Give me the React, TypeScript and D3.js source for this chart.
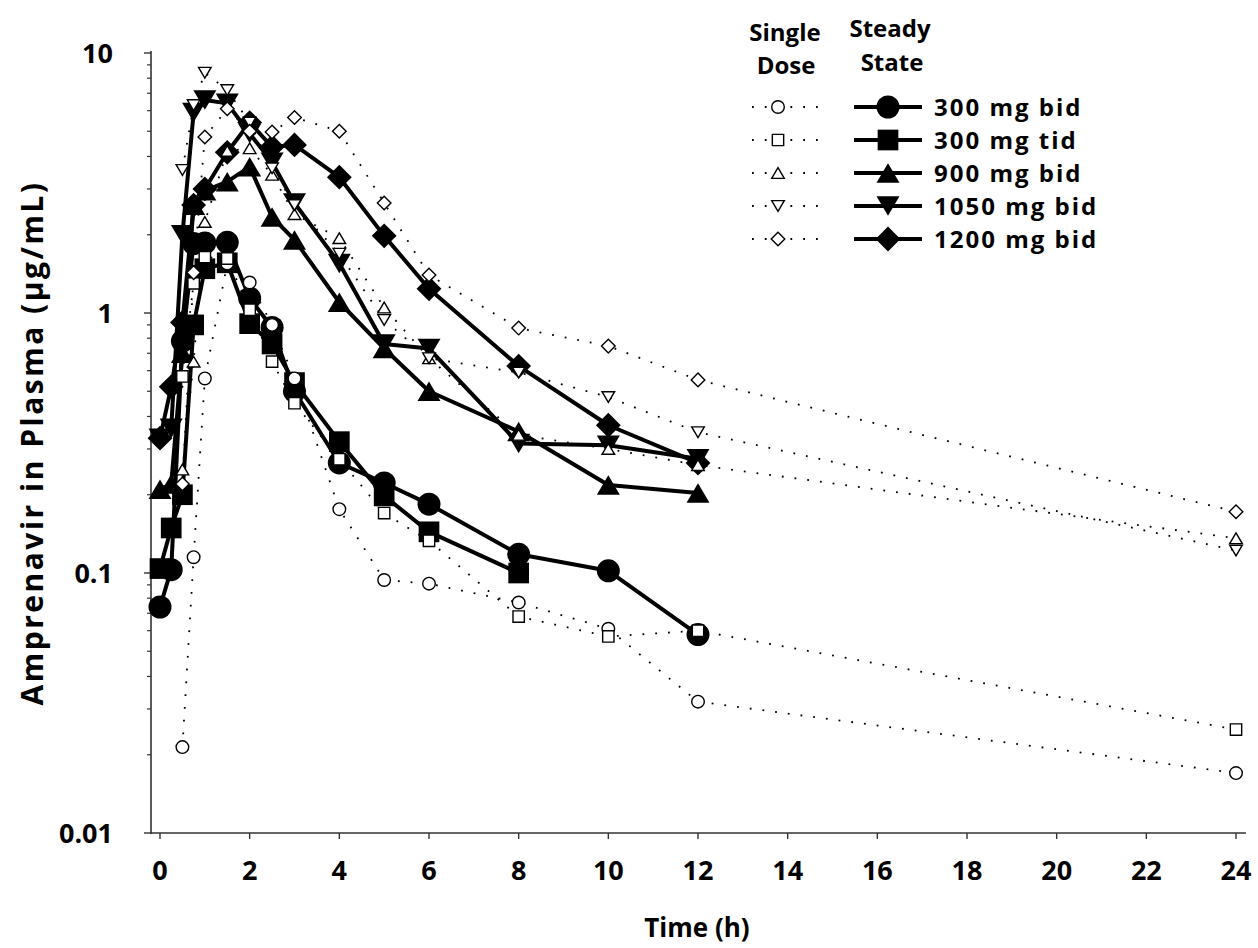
import React, { useRef, useEffect } from 'react';
import * as d3 from 'd3';

// sampling times (h)
const ssTimes = [0, 0.25, 0.5, 0.75, 1, 1.5, 2, 2.5, 3, 4, 5, 6, 8, 10, 12];
const sdTimes = [0.5, 0.75, 1, 1.5, 2, 2.5, 3, 4, 5, 6, 8, 10, 12, 24];

// steady state (filled markers, solid lines)
const ss300bid = [0.074, 0.103, 0.78, 1.85, 1.86, 1.87, 1.14, 0.88, 0.5, 0.265, 0.222, 0.184, 0.118, 0.102, 0.058];
const ss300tid = [0.104, 0.149, 0.2, 0.9, 1.48, 1.56, 0.91, 0.76, 0.54, 0.32, 0.198, 0.144, 0.1];
const ss900bid = [0.21, 0.22, 0.7, 2.6, 2.95, 3.2, 3.65, 2.34, 1.91, 1.1, 0.73, 0.5, 0.35, 0.218, 0.203];
const ss1050bid = [0.33, 0.36, 2.0, 5.9, 6.6, 6.4, 4.9, 3.8, 2.65, 1.55, 0.76, 0.73, 0.315, 0.31, 0.275];
const ss1200bid = [0.33, 0.52, 0.92, 2.6, 3.0, 4.15, 5.4, 4.35, 4.43, 3.33, 1.98, 1.24, 0.625, 0.37, 0.265];

// single dose (open markers, dotted lines)
const sd300bid = [0.0214, 0.115, 0.56, 1.55, 1.31, 0.9, 0.56, 0.176, 0.094, 0.091, 0.077, 0.061, 0.032, 0.017];
const sd300tid = [0.57, 1.3, 1.64, 1.62, 1.03, 0.65, 0.45, 0.274, 0.17, 0.133, 0.068, 0.057, 0.06, 0.025];
const sd900bid = [0.25, 0.65, 2.24, 4.2, 4.3, 3.4, 2.4, 1.94, 1.05, 0.67, 0.34, 0.3, 0.26, 0.136];
const sd1050bid = [3.55, 6.3, 8.4, 7.2, 5.4, 3.6, 2.6, 1.69, 0.94, 0.67, 0.59, 0.475, 0.348, 0.122];
const sd1200bid = [0.22, 1.43, 4.75, 6.1, 5.0, 4.97, 5.65, 5.0, 2.65, 1.4, 0.875, 0.746, 0.553, 0.172];

const labels = ['300 mg bid', '300 mg tid', '900 mg bid', '1050 mg bid', '1200 mg bid'];
const shapes = ['circle', 'square', 'up', 'down', 'diamond'];
const ssValues = [ss300bid, ss300tid, ss900bid, ss1050bid, ss1200bid];
const sdValues = [sd300bid, sd300tid, sd900bid, sd1050bid, sd1200bid];

const xTicks = d3.range(0, 25, 2);
const yMajor = [0.01, 0.1, 1, 10];
const yLabels = ['0.01', '0.1', '1', '10'];

const FONT = "'Open Sans', 'DejaVu Sans', sans-serif";

// marker outline around (0,0), s = half width
function markerPath(shape, s) {
  if (shape === 'circle') {
    return `M${-s},0A${s},${s} 0 1,0 ${s},0A${s},${s} 0 1,0 ${-s},0Z`;
  }
  if (shape === 'square') {
    const h = s * 0.9;
    return `M${-h},${-h}H${h}V${h}H${-h}Z`;
  }
  const th = s * 0.85;
  if (shape === 'up') return `M0,${-th}L${s},${th}L${-s},${th}Z`;
  if (shape === 'down') return `M0,${th}L${s},${-th}L${-s},${-th}Z`;
  const d = s * 1.08;
  return `M0,${-d}L${d},0L0,${d}L${-d},0Z`;
}

const App = () => {
  const svgRef = useRef();

  useEffect(() => {
    const width = 1258;
    const height = 948;
    const svg = d3.select(svgRef.current)
      .attr('width', width)
      .attr('height', height)
      .style('background', 'white');

    svg.selectAll('*').remove();

    const x = d3.scaleLinear().domain([0, 24]).range([160, 1236]);
    const y = d3.scaleLog().domain([0.01, 10]).range([833, 53]);

    // axes
    const axisLeft = 151;
    svg.append('line')
      .attr('x1', axisLeft).attr('x2', axisLeft)
      .attr('y1', 51).attr('y2', 834)
      .attr('stroke', '#333').attr('stroke-width', 1.6);
    svg.append('line')
      .attr('x1', axisLeft - 1).attr('x2', 1246)
      .attr('y1', 833).attr('y2', 833)
      .attr('stroke', '#333').attr('stroke-width', 1.6);

    const minor = [];
    for (let e = -2; e < 1; e++) {
      for (let m = 2; m <= 9; m++) minor.push(m * Math.pow(10, e));
    }
    svg.selectAll('.ymin').data(minor).enter().append('line')
      .attr('x1', axisLeft - 4).attr('x2', axisLeft)
      .attr('y1', d => y(d)).attr('y2', d => y(d))
      .attr('stroke', '#333').attr('stroke-width', 1.2);
    svg.selectAll('.ymaj').data(yMajor).enter().append('line')
      .attr('x1', axisLeft - 7).attr('x2', axisLeft)
      .attr('y1', d => y(d)).attr('y2', d => y(d))
      .attr('stroke', '#333').attr('stroke-width', 1.4);
    svg.selectAll('.ylab').data(yMajor).enter().append('text')
      .attr('x', 113).attr('y', d => y(d))
      .attr('dy', '0.36em')
      .attr('text-anchor', 'end')
      .attr('font-family', FONT).attr('font-weight', 700).attr('font-size', 27)
      .text((d, i) => yLabels[i]);

    svg.selectAll('.xt').data(xTicks).enter().append('line')
      .attr('x1', d => x(d)).attr('x2', d => x(d))
      .attr('y1', 833).attr('y2', 839)
      .attr('stroke', '#333').attr('stroke-width', 1.4);
    svg.selectAll('.xlab').data(xTicks).enter().append('text')
      .attr('x', d => x(d)).attr('y', 880)
      .attr('text-anchor', 'middle')
      .attr('font-family', FONT).attr('font-weight', 700).attr('font-size', 27)
      .text(d => d);

    svg.append('text')
      .attr('x', 697).attr('y', 937)
      .attr('text-anchor', 'middle')
      .attr('font-family', FONT).attr('font-weight', 700).attr('font-size', 26)
      .text('Time (h)');

    svg.append('text')
      .attr('transform', 'translate(43, 443) rotate(-90)')
      .attr('text-anchor', 'middle')
      .attr('font-family', FONT).attr('font-weight', 700).attr('font-size', 30)
      .attr('letter-spacing', 2.5)
      .text('Amprenavir in Plasma (\u00b5g/mL)');

    const line = d3.line().x(d => x(d[0])).y(d => y(d[1]));

    // steady state: solid lines + filled markers
    ssValues.forEach((vals) => {
      const pts = vals.map((v, j) => [ssTimes[j], v]);
      svg.append('path')
        .attr('d', line(pts))
        .attr('fill', 'none').attr('stroke', '#000')
        .attr('stroke-width', 4).attr('stroke-linejoin', 'round');
    });
    ssValues.forEach((vals, i) => {
      const pts = vals.map((v, j) => [ssTimes[j], v]);
      svg.selectAll(null).data(pts).enter().append('path')
        .attr('transform', d => `translate(${x(d[0])},${y(d[1])})`)
        .attr('d', markerPath(shapes[i], 11.5))
        .attr('fill', '#000');
    });

    // single dose: dotted lines + open markers
    sdValues.forEach((vals) => {
      const pts = vals.map((v, j) => [sdTimes[j], v]);
      svg.append('path')
        .attr('d', line(pts))
        .attr('fill', 'none').attr('stroke', '#000')
        .attr('stroke-width', 1.8).attr('stroke-dasharray', '1.8 11');
    });
    sdValues.forEach((vals, i) => {
      const pts = vals.map((v, j) => [sdTimes[j], v]);
      svg.selectAll(null).data(pts).enter().append('path')
        .attr('transform', d => `translate(${x(d[0])},${y(d[1])})`)
        .attr('d', markerPath(shapes[i], 6.3))
        .attr('fill', '#fff').attr('stroke', '#000').attr('stroke-width', 1.4);
    });

    // legend
    const lg = svg.append('g');
    const head = [['Single', 785, 41], ['Dose', 786, 74], ['Steady', 890, 37], ['State', 892, 71]];
    head.forEach(h => {
      lg.append('text')
        .attr('x', h[1]).attr('y', h[2])
        .attr('text-anchor', 'middle')
        .attr('font-family', FONT).attr('font-weight', 700).attr('font-size', 24)
        .text(h[0]);
    });
    labels.forEach((lab, i) => {
      const ly = 107 + i * 33;
      lg.append('line')
        .attr('x1', 752).attr('x2', 828).attr('y1', ly).attr('y2', ly)
        .attr('stroke', '#000').attr('stroke-width', 1.8).attr('stroke-dasharray', '1.8 11');
      lg.append('path')
        .attr('transform', `translate(778,${ly})`)
        .attr('d', markerPath(shapes[i], 6.3))
        .attr('fill', '#fff').attr('stroke', '#000').attr('stroke-width', 1.4);
      lg.append('line')
        .attr('x1', 854).attr('x2', 922).attr('y1', ly).attr('y2', ly)
        .attr('stroke', '#000').attr('stroke-width', 4);
      lg.append('path')
        .attr('transform', `translate(888,${ly})`)
        .attr('d', markerPath(shapes[i], 11.5))
        .attr('fill', '#000');
      lg.append('text')
        .attr('x', 934).attr('y', ly)
        .attr('dy', '0.36em')
        .attr('font-family', FONT).attr('font-weight', 700).attr('font-size', 24)
        .attr('letter-spacing', 2)
        .text(lab);
    });
  }, []);

  return <svg ref={svgRef} style={{ position: 'absolute', left: 0, top: 0 }}></svg>;
};

export default App;
